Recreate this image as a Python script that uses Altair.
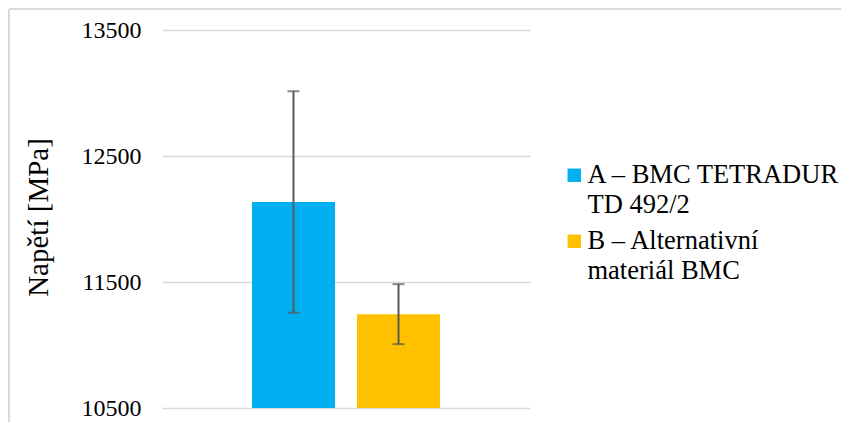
import altair as alt
import pandas as pd

series = ["A – BMC TETRADUR\nTD 492/2", "B – Alternativní\nmateriál BMC"]
means = [12135, 11245]
errors = [879, 238]
colors = ["#00B0F0", "#FFC000"]
y_ticks = [10500, 11500, 12500, 13500]

df = pd.DataFrame({"series": series, "mean": means, "err": errors})

FONT = "Liberation Serif"

x_enc = alt.X("series:N", axis=None,
              scale=alt.Scale(domain=series, paddingInner=0.2095, paddingOuter=0.857))
y_scale = alt.Scale(domain=[y_ticks[0], y_ticks[-1]], nice=False, zero=False)

base = alt.Chart(df)

bars = base.mark_bar().encode(
    x=x_enc,
    y=alt.Y("mean:Q", scale=y_scale,
            axis=alt.Axis(values=y_ticks, title="Napětí [MPa]", domain=False, ticks=False,
                          format="d",
                          labelFont=FONT, labelFontSize=24, labelColor="#000000", labelPadding=21,
                          titleFont=FONT, titleFontSize=29, titleFontWeight="normal",
                          titleColor="#000000", titleX=-124, titleY=187, titleBaseline="middle",
                          gridColor="#d9d9d9", gridWidth=1.5)),
    y2=alt.Y2(datum=y_ticks[0]),
    color=alt.Color("series:N", scale=alt.Scale(domain=series, range=colors),
                    legend=alt.Legend(title=None, orient="none", legendX=399, legendY=132,
                                      symbolType="square", symbolSize=180, symbolStrokeWidth=0,
                                      labelFont=FONT, labelFontSize=26.5, labelColor="#000000",
                                      labelLimit=400, labelOffset=0, rowPadding=9,
                                      labelExpr="split(datum.label, '\\n')")),
)

rules = base.transform_calculate(
    lo="datum.mean - datum.err", hi="datum.mean + datum.err"
).mark_rule(color="#595959", strokeWidth=2).encode(
    x=x_enc, y=alt.Y("lo:Q", scale=y_scale), y2="hi:Q"
)

caps_hi = base.transform_calculate(hi="datum.mean + datum.err").mark_tick(
    color="#595959", thickness=2, size=12, orient="horizontal"
).encode(x=x_enc, y=alt.Y("hi:Q", scale=y_scale))

caps_lo = base.transform_calculate(lo="datum.mean - datum.err").mark_tick(
    color="#595959", thickness=2, size=12, orient="horizontal"
).encode(x=x_enc, y=alt.Y("lo:Q", scale=y_scale))

frame_df = pd.DataFrame({"k": [0]})
frame_left = alt.Chart(frame_df).mark_rule(color="#d9d9d9", strokeWidth=2).encode(
    x=alt.value(-153), y=alt.value(-21), y2=alt.value(400)
)
frame_top = alt.Chart(frame_df).mark_rule(color="#d9d9d9", strokeWidth=2).encode(
    x=alt.value(-153), x2=alt.value(690), y=alt.value(-21)
)

chart = alt.layer(bars, rules, caps_hi, caps_lo, frame_left, frame_top).properties(
    width=368, height=378,
    autosize=alt.AutoSizeParams(type="none"),
    padding={"left": 154, "top": 22, "right": 311, "bottom": 14},
).configure(
    font=FONT,
    view=alt.ViewConfig(stroke=None),
    style={"guide-label": {"lineHeight": 30, "font": FONT},
           "guide-title": {"font": FONT}},
)

chart.save("out.html", embed_options={"renderer": "svg", "actions": False})
